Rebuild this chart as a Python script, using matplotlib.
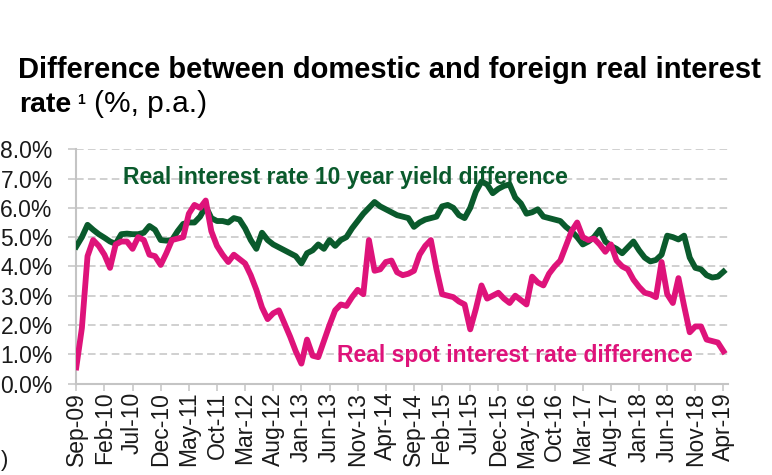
import numpy as np
import matplotlib.pyplot as plt

# monthly, Sep-09 .. Apr-19
tick_labels = ['Sep-09', 'Feb-10', 'Jul-10', 'Dec-10', 'May-11', 'Oct-11', 'Mar-12', 'Aug-12',
               'Jan-13', 'Jun-13', 'Nov-13', 'Apr-14', 'Sep-14', 'Feb-15', 'Jul-15', 'Dec-15',
               'May-16', 'Oct-16', 'Mar-17', 'Aug-17', 'Jan-18', 'Jun-18', 'Nov-18', 'Apr-19']

yield_diff = [4.68, 5.0, 5.42, 5.25, 5.1, 4.98, 4.85, 4.77, 5.1, 5.12,
              5.1, 5.1, 5.15, 5.38, 5.25, 4.9, 4.88, 4.9, 5.2, 5.45,
              5.5, 5.5, 5.7, 6.05, 5.65, 5.55, 5.55, 5.5, 5.65, 5.6,
              5.3, 4.9, 4.6, 5.15, 4.9, 4.75, 4.65, 4.55, 4.45, 4.35,
              4.1, 4.45, 4.55, 4.75, 4.6, 4.9, 4.7, 4.9, 5.0, 5.3,
              5.55, 5.8, 6.0, 6.2, 6.05, 5.95, 5.85, 5.75, 5.7, 5.65,
              5.35, 5.5, 5.6, 5.65, 5.7, 6.05, 6.1, 6.0, 5.75, 5.65,
              6.0, 6.55, 6.9, 6.8, 6.5, 6.65, 6.75, 6.8, 6.35, 6.15,
              5.8, 5.85, 5.95, 5.7, 5.65, 5.6, 5.55, 5.35, 5.2, 5.0,
              4.75, 4.85, 5.0, 5.25, 4.85, 4.7, 4.6, 4.45, 4.65, 4.85,
              4.55, 4.3, 4.17, 4.22, 4.4, 5.05, 5.0, 4.92, 5.05, 4.3,
              3.95, 3.9, 3.7, 3.62, 3.65, 3.82]

spot_diff = [0.55, 1.9, 4.35, 4.9, 4.7, 4.4, 3.95, 4.75, 4.85, 4.85,
             4.6, 5.0, 4.9, 4.4, 4.35, 4.05, 4.45, 4.9, 4.95, 5.0,
             5.8, 6.1, 6.0, 6.25, 5.2, 4.7, 4.4, 4.15, 4.4, 4.25,
             4.1, 3.7, 3.2, 2.6, 2.2, 2.4, 2.5, 2.05, 1.6, 1.1,
             0.68, 1.5, 0.95, 0.9, 1.45, 2.0, 2.5, 2.7, 2.65, 2.95,
             3.2, 3.05, 4.9, 3.85, 3.9, 4.15, 4.2, 3.8, 3.7, 3.75,
             3.85, 4.4, 4.7, 4.9, 3.9, 3.05, 3.0, 2.95, 2.8, 2.7,
             1.85, 2.55, 3.35, 2.9, 3.0, 3.1, 2.9, 2.75, 3.0, 2.85,
             2.7, 3.65, 3.45, 3.35, 3.75, 4.0, 4.2, 4.7, 5.2, 5.5,
             5.0, 4.9, 4.95, 4.75, 4.5, 4.75, 4.2, 4.0, 3.9, 3.55,
             3.3, 3.1, 3.05, 2.95, 4.15, 3.05, 2.75, 3.6, 2.65, 1.75,
             1.95, 1.95, 1.5, 1.45, 1.4, 1.1]

green = '#0a5a2c'
pink = '#de137a'
grey = '#c4c4c4'

plt.rcParams['font.family'] = 'Liberation Sans'

fig = plt.figure(figsize=(7.72, 4.75), dpi=100)
ax = fig.add_axes([0.0988, 0.1926, 0.8442, 0.4931])

x = np.arange(len(yield_diff))
ax.plot(x, yield_diff, color=green, lw=4.2, solid_joinstyle='round', zorder=3)
ax.plot(x, spot_diff, color=pink, lw=4.2, solid_joinstyle='round', zorder=3)

ax.set_xlim(0, 115.8)
ax.set_ylim(0, 8)
ax.set_yticks(np.arange(0, 9, 1))
ax.set_yticklabels(['%.1f%%' % v for v in np.arange(0, 9, 1)])
ax.set_xticks(np.arange(0, len(yield_diff), 5))
ax.set_xticklabels(tick_labels, rotation=90)

ax.grid(axis='y', color=grey, lw=1.1, linestyle=(0, (5, 2.8)))
ax.set_axisbelow(True)
for s in ['top', 'right']:
    ax.spines[s].set_visible(False)
for s in ['left', 'bottom']:
    ax.spines[s].set_color(grey)
    ax.spines[s].set_linewidth(1.5)
ax.tick_params(axis='y', length=6, width=1.1, color=grey, pad=11, labelsize=16.5, labelcolor='#1a1a1a')
ax.tick_params(axis='x', length=5, width=1.1, color=grey, pad=1, labelsize=16.5, labelcolor='#1a1a1a')

ax.text(8.3, 6.8, 'Real interest rate 10 year yield difference', color=green,
        fontsize=16.5, fontweight='bold', ha='left', va='baseline')
ax.text(46.3, 0.74, 'Real spot interest rate difference', color=pink,
        fontsize=16.5, fontweight='bold', ha='left', va='baseline')

fig.text(18 / 772, 1 - 78 / 475, 'Difference between domestic and foreign real interest',
         fontsize=21, fontweight='bold', ha='left', va='baseline')
fig.text(19 / 772, 1 - 112 / 475, 'rate', fontsize=20.5, fontweight='bold', ha='left', va='baseline')
fig.text(77 / 772, 1 - 104 / 475, '1', fontsize=10, fontweight='bold', ha='left', va='baseline')
fig.text(94 / 772, 1 - 112 / 475, '(%, p.a.)', fontsize=21.5, ha='left', va='baseline')
# stray glyph at the lower left edge of the source
fig.text(1 / 772, 1 - 466 / 475, ')', fontsize=16, ha='left', va='baseline', color='#1a1a1a')

fig.savefig('out.png', dpi=100)
